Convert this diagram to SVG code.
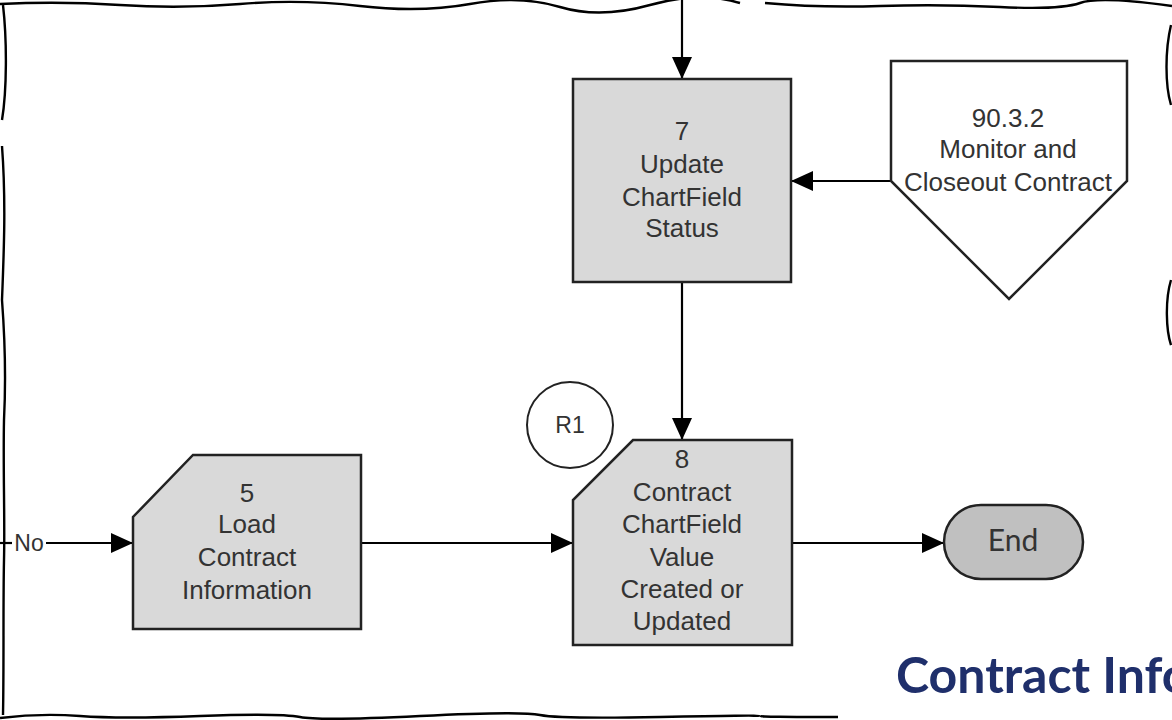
<svg xmlns="http://www.w3.org/2000/svg" width="1172" height="720" viewBox="0 0 1172 720">
<defs>
<marker id="arr" viewBox="0 0 22 20" refX="22" refY="10" markerWidth="22" markerHeight="20" markerUnits="userSpaceOnUse" orient="auto">
<path d="M0,0 L22,10 L0,20 Z" fill="#000"/>
</marker>
<style>
.box{fill:#d9d9d9;stroke:#222;stroke-width:2.5}
.wht{fill:#fff;stroke:#222;stroke-width:2.5}
.t{font-family:"Liberation Sans",Arial,sans-serif;font-size:26px;fill:#333;text-anchor:middle}
.c{fill:none;stroke:#000;stroke-width:2.2}
.edge{fill:none;stroke:#000;stroke-width:2.4}
</style>
</defs>
<rect width="1172" height="720" fill="#fff"/>
<g id="border">
<path class="edge" d="M0,4 Q60,1 120,5 T240,4 T360,6 T470,4 T560,7 T650,5 T740,3 M765,3 Q820,8 880,6 T1000,7 T1080,3 T1172,6"/>
<path class="edge" d="M3,5 C7,40 7,90 2,120 M2,146 C6,200 4,250 2,300 C5,340 6,380 4,420 C3,470 5,520 4,560 C3,610 4,660 3,715"/>
<path class="edge" d="M1171,25 C1165,50 1165,85 1171,105 M1171,280 C1165,300 1166,330 1171,345"/>
<path class="edge" d="M0,718 Q40,713 80,716 T200,716 T300,717 T420,716 T540,715 T660,717 T760,716 T838,717"/>
</g>
<g id="connectors">
<line class="c" x1="682" y1="0" x2="682" y2="79" marker-end="url(#arr)"/>
<line class="c" x1="891" y1="181" x2="791" y2="181" marker-end="url(#arr)"/>
<line class="c" x1="682" y1="282" x2="682" y2="440" marker-end="url(#arr)"/>
<line class="c" x1="0" y1="543" x2="12" y2="543"/>
<line class="c" x1="46" y1="543" x2="133" y2="543" marker-end="url(#arr)"/>
<line class="c" x1="361" y1="543" x2="573" y2="543" marker-end="url(#arr)"/>
<line class="c" x1="792" y1="543" x2="944" y2="543" marker-end="url(#arr)"/>
<text x="29" y="551" class="t" style="font-size:23px">No</text>
</g>
<g id="node7">
<rect class="box" x="573" y="79" width="218" height="203"/>
<text class="t" x="682" y="140">7</text>
<text class="t" x="682" y="173">Update</text>
<text class="t" x="682" y="206">ChartField</text>
<text class="t" x="682" y="237">Status</text>
</g>
<g id="node9032">
<path class="wht" d="M891,61 L1127,61 L1127,181 L1009,299 L891,181 Z"/>
<text class="t" x="1008" y="127">90.3.2</text>
<text class="t" x="1008" y="158">Monitor and</text>
<text class="t" x="1008" y="191">Closeout Contract</text>
</g>
<g id="r1">
<circle class="wht" cx="570" cy="425" r="43" style="stroke-width:2"/>
<text class="t" x="570" y="433" style="font-size:23px">R1</text>
</g>
<g id="node8">
<path class="box" d="M633,440 L792,440 L792,645 L573,645 L573,500 Z"/>
<text class="t" x="682" y="468">8</text>
<text class="t" x="682" y="501">Contract</text>
<text class="t" x="682" y="533">ChartField</text>
<text class="t" x="682" y="566">Value</text>
<text class="t" x="682" y="598">Created or</text>
<text class="t" x="682" y="630">Updated</text>
</g>
<g id="node5">
<path class="box" d="M193,455 L361,455 L361,629 L133,629 L133,517 Z"/>
<text class="t" x="247" y="502">5</text>
<text class="t" x="247" y="533">Load</text>
<text class="t" x="247" y="566">Contract</text>
<text class="t" x="247" y="599">Information</text>
</g>
<g id="end">
<rect x="944" y="505" width="139" height="74" rx="37" fill="#c0c0c0" stroke="#222" stroke-width="2.5"/>
<text class="t" x="1013" y="551" style="font-family:Lato,'Open Sans',sans-serif;font-size:30px">End</text>
</g>
<text x="896" y="693" style="font-family:Lato,'Open Sans',sans-serif;font-weight:bold;font-size:50px;fill:#1f2f6b">Contract Info</text>
</svg>
